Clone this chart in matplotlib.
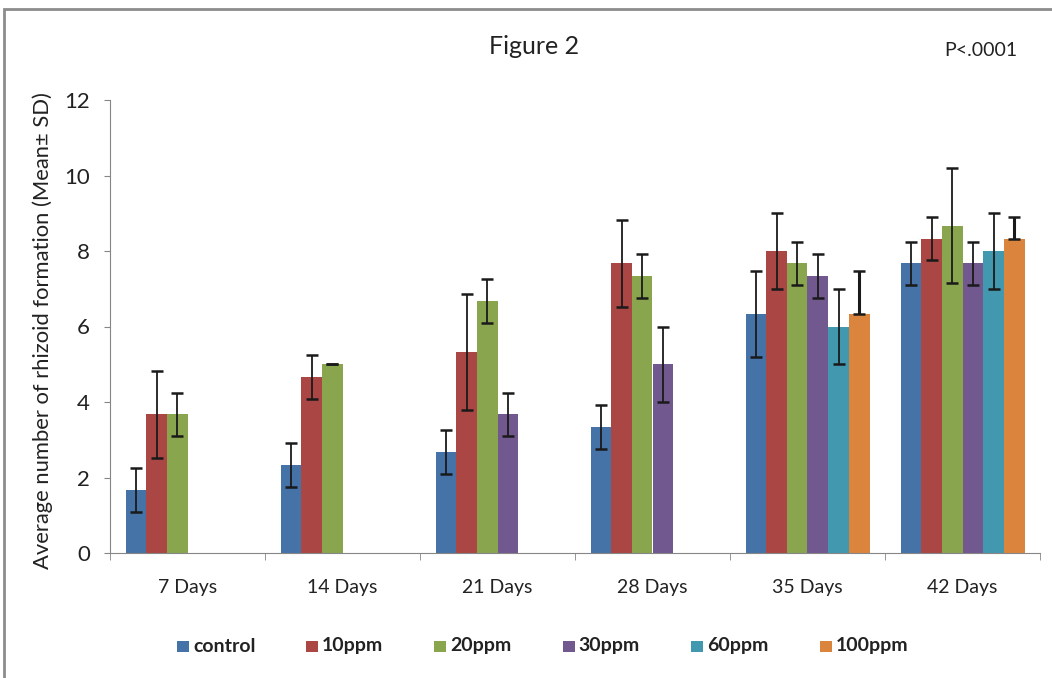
import numpy as np
import matplotlib.pyplot as plt
from matplotlib.patches import Rectangle

plt.rcParams["font.family"] = ["Lato", "DejaVu Sans"]

dias     = ["7 Days", "14 Days", "21 Days", "28 Days", "35 Days", "42 Days"]
series   = ["control", "10ppm", "20ppm", "30ppm", "60ppm", "100ppm"]
nan = np.nan
media = {
    "control": [1.67, 2.33, 2.67, 3.33, 6.33, 7.67],
    "10ppm":   [3.67, 4.67, 5.33, 7.67, 8.00, 8.33],
    "20ppm":   [3.67, 5.00, 6.67, 7.33, 7.67, 8.67],
    "30ppm":   [nan,  nan,  3.67, 5.00, 7.33, 7.67],
    "60ppm":   [nan,  nan,  nan,  nan,  6.00, 8.00],
    "100ppm":  [nan,  nan,  nan,  nan,  6.33, 8.33],
}
dp = {
    "control": [0.58, 0.58, 0.58, 0.58, 1.15, 0.58],
    "10ppm":   [1.15, 0.58, 1.53, 1.15, 1.00, 0.58],
    "20ppm":   [0.58, 0.00, 0.58, 0.58, 0.58, 1.53],
    "30ppm":   [nan,  nan,  0.58, 1.00, 0.58, 0.58],
    "60ppm":   [nan,  nan,  nan,  nan,  1.00, 1.00],
    "100ppm":  [nan,  nan,  nan,  nan,  1.15, 0.58],
}
so_acima = {"100ppm"}  # barra de erro só para cima

CORES = {"control": "#4572a7", "10ppm": "#aa4643", "20ppm": "#89a54e",
         "30ppm": "#71588f", "60ppm": "#4198af", "100ppm": "#db843d"}

W, H = 1052, 678
fig = plt.figure(figsize=(W / 100, H / 100), dpi=100, facecolor="white")
ax = fig.add_axes([110 / W, 1 - 553 / H, 930 / W, 453 / H])

x = np.arange(len(dias))
larg = 1 / 7.5
for j, s in enumerate(series):
    pos = x + (j - 2.5) * larg
    m = np.array(media[s]); e = np.array(dp[s])
    cima = s in so_acima
    yerr = [np.zeros_like(e), e] if cima else [e, e]
    ax.bar(pos, m, larg, color=CORES[s], edgecolor="none", zorder=2)
    ax.errorbar(pos, m, yerr=yerr, fmt="none", ecolor="#1a1a1a",
                elinewidth=2.2 if cima else 1.3, capsize=4, capthick=1.8, zorder=3)

ax.set_xlim(-0.5, 5.5); ax.set_ylim(0, 12)
ax.set_yticks(range(0, 13, 2))
ax.set_xticks(x); ax.set_xticklabels(dias)
ax.set_xticks(np.arange(-0.5, 6, 1), minor=True)
ax.tick_params(axis="x", which="major", length=0, labelsize=14, pad=19, colors="#222222")
ax.tick_params(axis="x", which="minor", length=5, color="#868686")
ax.tick_params(axis="y", length=4.5, color="#868686", labelsize=16, pad=10, labelcolor="#222222")
ax.spines[["top", "right"]].set_visible(False)
ax.spines[["left", "bottom"]].set_color("#868686")
ax.set_ylabel("Average number of rhizoid formation (Mean\u00b1 SD)", fontsize=15.8,
              color="#222222")
ax.yaxis.set_label_coords(-57 / 930, 0.49)

fig.text(534 / W, 1 - 47 / H, "Figure 2", ha="center", va="center", fontsize=18, color="#222222")
fig.text(981 / W, 1 - 50 / H, "P<.0001", ha="center", va="center", fontsize=14, color="#222222")

# legenda em colunas iguais, como no Excel
for j, s in enumerate(series):
    x0 = 177 + j * 128.5
    fig.patches.append(Rectangle((x0 / W, 1 - 652 / H), 12 / W, 11 / H, transform=fig.transFigure,
                                 facecolor=CORES[s], edgecolor="none"))
    fig.text((x0 + 16) / W, 1 - 646 / H, s, ha="left", va="center", fontsize=14,
             fontweight="bold", color="#222222")

fig.patches.append(Rectangle((4 / W, -0.05), 1.2, 1 - 9 / H + 0.05, transform=fig.transFigure,
                             facecolor="none", edgecolor="#8c8c8c", lw=2))

fig.savefig("out.png", dpi=100, facecolor="white")
